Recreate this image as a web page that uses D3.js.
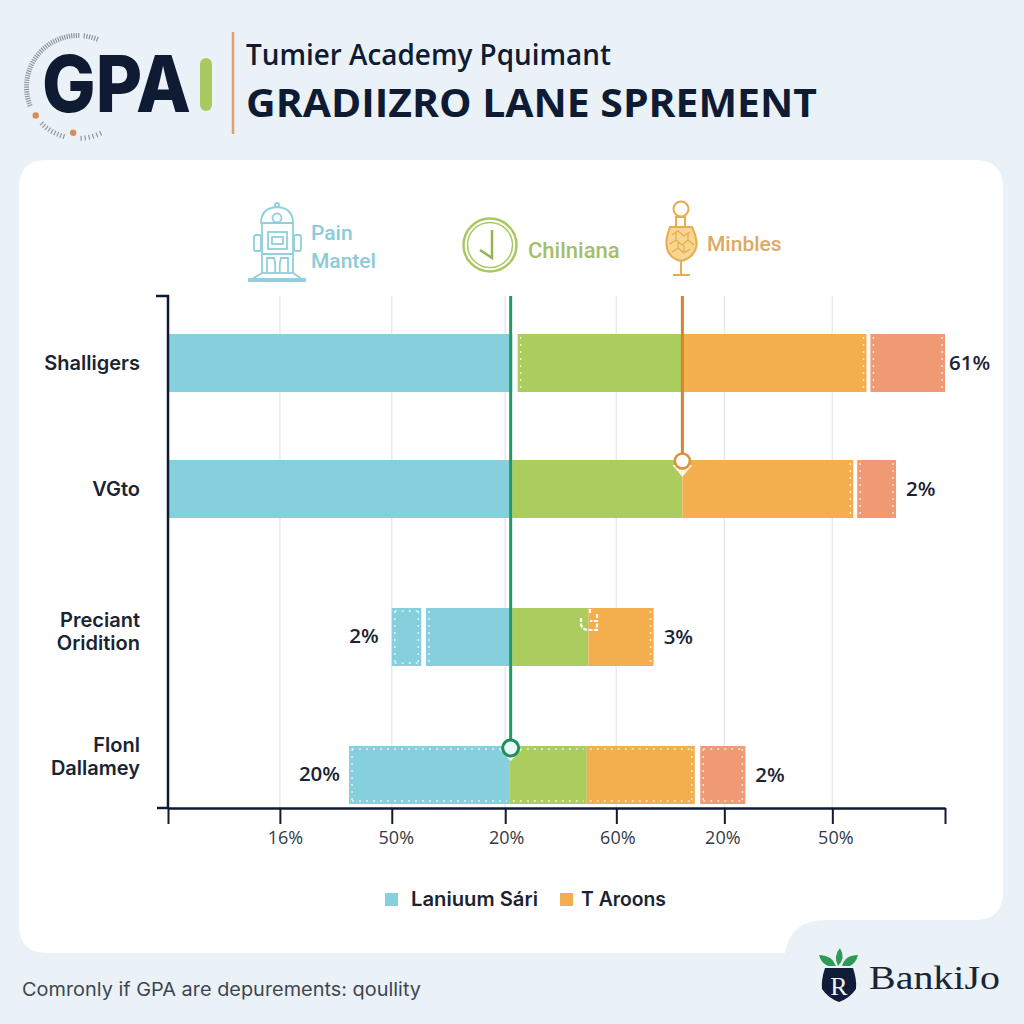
<!DOCTYPE html>
<html>
<head>
<meta charset="utf-8">
<script src="https://cdn.jsdelivr.net/npm/d3@7/dist/d3.min.js"></script>
<style>
  html, body { margin: 0; padding: 0; background: #eaf2f7; }
  svg { display: block; }
  text { font-family: "Open Sans", sans-serif; }
</style>
</head>
<body>
<div id="chart"></div>
<script>
// values, x in percent of the axis length
var categories = ["Shalligers", "VGto", "Preciant\nOridition", "Flonl\nDallamey"];
var xTickValues = [0, 14.4, 28.8, 43.4, 57.7, 71.6, 85.5, 100];
var xTickLabels = ["", "16%", "50%", "20%", "60%", "20%", "50%", ""];

// one [from, to] per category, null where the category has no such piece
var seriesLead = [null, null, [28.8, 32.6], null];
var seriesBlue = [[0, 44.3], [0, 44.3], [33.2, 44.3], [23.3, 44.0]];
var seriesGreen = [[45.0, 66.2], [44.3, 66.2], [44.3, 54.1], [44.0, 53.9]];
var seriesOrange = [[66.2, 89.9], [66.2, 88.2], [54.1, 62.5], [53.9, 67.8]];
var seriesRed = [[90.4, 100], [88.7, 93.7], null, [68.5, 74.3]];

var leftLabels = [null, null, "2%", "20%"];
var rightLabels = ["61%", "2%", "3%", "2%"];

var greenMarker = 44.1;
var orangeMarker = 66.2;

var width = 1024, height = 1024;
var navy = "#0f1b33";

var colors = { lead: "#86d0de", blue: "#86d0de", green: "#abcd5e", orange: "#f3ae4e", red: "#ef9a75" };

// which sides of each piece carry the white dotted edge, per category
var dotted = {
  lead: ["", "", "tblr", ""],
  blue: ["", "", "l", "tbl"],
  green: ["l", "", "", "tb"],
  orange: ["r", "r", "r", "tbr"],
  red: ["lr", "lr", "", "tblr"]
};

var svg = d3.select("#chart").append("svg")
  .attr("width", width)
  .attr("height", height);

svg.append("rect").attr("width", width).attr("height", height).attr("fill", "#eaf2f7");

// card with the notch for the logo in the lower right corner
svg.append("path")
  .attr("fill", "#ffffff")
  .attr("d", "M47,160 H975 Q1003,160 1003,188 V892 Q1003,920 975,920 H825 Q790,920 785,953 H47 Q19,953 19,925 V188 Q19,160 47,160 Z");

// ---- header
var ring = svg.append("g").attr("transform", "translate(78,87)");
function ringTicks(from, to, step) {
  ring.selectAll(null)
    .data(d3.range(from, to, step))
    .enter().append("line")
    .attr("y1", -54).attr("y2", -49)
    .attr("stroke", "#8d969f").attr("stroke-width", 1.2)
    .attr("transform", function (d) { return "rotate(" + d + ")"; });
}
ringTicks(-111, 2, 2.6);
ringTicks(7, 24, 3);
ringTicks(-164, -134, 3.6);
ringTicks(154, 180, 4.5);
[[-124, 51], [-174, 46]].forEach(function (d) {
  var a = d[0] * Math.PI / 180;
  ring.append("circle")
    .attr("cx", Math.sin(a) * d[1]).attr("cy", -Math.cos(a) * d[1])
    .attr("r", 3.2).attr("fill", "#e0895a");
});

svg.append("text").attr("x", 42).attr("y", 112)
  .attr("fill", navy).attr("font-size", 79).attr("font-weight", 800)
  .style("font-family", "Inter, sans-serif")
  .attr("textLength", 149).attr("lengthAdjust", "spacingAndGlyphs")
  .text("GPA");
svg.append("rect").attr("x", 200).attr("y", 58).attr("width", 12).attr("height", 53).attr("rx", 6).attr("fill", "#a9c85f");
svg.append("line").attr("x1", 233).attr("x2", 233).attr("y1", 32).attr("y2", 134)
  .attr("stroke", "#e5a06a").attr("stroke-width", 2.5);

svg.append("text").attr("x", 246).attr("y", 65)
  .attr("fill", navy).attr("font-size", 28.5).attr("font-weight", 600)
  .attr("textLength", 365).attr("lengthAdjust", "spacingAndGlyphs")
  .text("Tumier Academy Pquimant");
svg.append("text").attr("x", 246).attr("y", 117)
  .attr("fill", navy).attr("font-size", 40).attr("font-weight", 700)
  .attr("textLength", 571).attr("lengthAdjust", "spacingAndGlyphs")
  .text("GRADIIZRO LANE SPREMENT");

// ---- the three icon captions above the plot
var robot = svg.append("g").attr("fill", "none").attr("stroke", "#8fd0dc").attr("stroke-width", 1.8);
robot.append("circle").attr("cx", 277).attr("cy", 205).attr("r", 2);
robot.append("path").attr("d", "M261,223 Q261,208 277,207 Q293,208 293,223 Z");
robot.append("circle").attr("cx", 277).attr("cy", 218).attr("r", 4.5);
robot.append("rect").attr("x", 262).attr("y", 223).attr("width", 31).attr("height", 50);
robot.append("rect").attr("x", 254).attr("y", 235).attr("width", 7).attr("height", 16).attr("rx", 2);
robot.append("rect").attr("x", 294).attr("y", 235).attr("width", 7).attr("height", 16).attr("rx", 2);
robot.append("rect").attr("x", 268).attr("y", 232).attr("width", 19).attr("height", 17);
robot.append("rect").attr("x", 272).attr("y", 237).attr("width", 11).attr("height", 7);
robot.append("path").attr("d", "M262,254 H293 M267,273 V258 H274 Q276,265 275,273 M288,273 V258 H281 Q279,265 280,273");
robot.append("path").attr("d", "M262,273 L252,279 H302 L293,273 M249,279 H305 V281 H249 Z");

svg.append("text").attr("x", 311).attr("y", 240).attr("fill", "#8ccbd8")
  .attr("font-size", 21).attr("font-weight", 500).style("font-family", "Roboto, sans-serif").text("Pain");
svg.append("text").attr("x", 311).attr("y", 268).attr("fill", "#8ccbd8")
  .attr("font-size", 21).attr("font-weight", 500).style("font-family", "Roboto, sans-serif").text("Mantel");

var clock = svg.append("g").attr("fill", "none").attr("stroke", "#a9c85f");
clock.append("circle").attr("cx", 490).attr("cy", 245).attr("r", 26.5).attr("stroke-width", 2.5);
clock.append("circle").attr("cx", 490).attr("cy", 245).attr("r", 22.5).attr("stroke-width", 1.5);
clock.append("path").attr("stroke", "#93b552").attr("stroke-width", 2.5)
  .attr("d", "M492,230 V258 L480,250");
svg.append("text").attr("x", 528).attr("y", 258).attr("fill", "#a3c068")
  .attr("font-size", 22).attr("font-weight", 500).style("font-family", "Roboto, sans-serif").text("Chilniana");

var glass = svg.append("g").attr("fill", "none").attr("stroke", "#e8ab4f").attr("stroke-width", 2);
glass.append("circle").attr("cx", 681).attr("cy", 209).attr("r", 7.5);
glass.append("rect").attr("x", 676).attr("y", 217).attr("width", 9).attr("height", 10);
glass.append("path").attr("fill", "#f6d690")
  .attr("d", "M670,227 H692 Q698,240 696,248 Q693,258 681,261 Q669,258 667,248 Q665,240 670,227 Z");
glass.append("path").attr("stroke-width", 1.2)
  .attr("d", "M672,235 L678,231 L684,236 L690,232 M670,244 L676,240 L682,245 L688,240 L694,245 M672,252 L678,248 L684,253 L690,249 M676,240 V231 M688,240 V233 M678,248 V241 M684,253 V245");
glass.append("path").attr("d", "M681,261 V275 M673,275 H690");
svg.append("text").attr("x", 707).attr("y", 251).attr("fill", "#dcaa62")
  .attr("font-size", 21).attr("font-weight", 500).style("font-family", "Roboto, sans-serif").text("Minbles");

// ---- plot
var plotTop = 296, plotBottom = 808;
var barHeight = 58;
var rowCenters = [363, 489, 637, 775];
var labelCenters = [363, 489, 631, 756];
var tickLabelShift = [0, 5, 4, 1, 1, -2, 3, 0];
var rightLabelGap = [4, 10, 10, 10];
var leftLabelGap = [0, 0, 13, 9];

var x = d3.scaleLinear().domain([0, 100]).range([168, 945]);
var y = d3.scaleOrdinal().domain(categories).range(rowCenters);
var labelY = d3.scaleOrdinal().domain(categories).range(labelCenters);

svg.append("g").selectAll("line")
  .data(xTickValues.slice(1, -1))
  .enter().append("line")
  .attr("x1", function (d) { return x(d); })
  .attr("x2", function (d) { return x(d); })
  .attr("y1", plotTop).attr("y2", plotBottom)
  .attr("stroke", "#e7e9eb").attr("stroke-width", 1.5);

var seriesList = [
  { key: "lead", values: seriesLead },
  { key: "blue", values: seriesBlue },
  { key: "green", values: seriesGreen },
  { key: "orange", values: seriesOrange },
  { key: "red", values: seriesRed }
];

seriesList.forEach(function (s) {
  var pieces = s.values.map(function (v, i) {
    return v ? { category: categories[i], from: v[0], to: v[1], sides: dotted[s.key][i] } : null;
  }).filter(Boolean);

  var g = svg.append("g").selectAll("g").data(pieces).enter().append("g");

  g.append("rect")
    .attr("x", function (d) { return x(d.from); })
    .attr("width", function (d) { return x(d.to) - x(d.from); })
    .attr("y", function (d) { return y(d.category) - barHeight / 2; })
    .attr("height", barHeight)
    .attr("fill", colors[s.key]);

  // white dotted edges, drawn just inside the piece
  g.each(function (d) {
    var x0 = x(d.from) + 3, x1 = x(d.to) - 3;
    var y0 = y(d.category) - barHeight / 2 + 3, y1 = y(d.category) + barHeight / 2 - 3;
    var segs = { t: [x0, y0, x1, y0], b: [x0, y1, x1, y1], l: [x0, y0, x0, y1], r: [x1, y0, x1, y1] };
    var node = d3.select(this);
    d.sides.split("").forEach(function (side) {
      var c = segs[side];
      node.append("line")
        .attr("x1", c[0]).attr("y1", c[1]).attr("x2", c[2]).attr("y2", c[3])
        .attr("stroke", "#ffffff").attr("stroke-opacity", 0.75)
        .attr("stroke-width", 1.5).attr("stroke-dasharray", "2 5");
    });
  });
});

// small white glyph on the third row
svg.append("path").attr("fill", "none").attr("stroke", "#ffffff").attr("stroke-width", 2.2)
  .attr("stroke-dasharray", "4 1.5")
  .attr("d", "M590,609 V614 M581,618 V625 Q583,630 589,630 H597 V621 H590 M597,614 V618");

var xAxis = d3.axisBottom(x)
  .tickValues(xTickValues)
  .tickSize(16)
  .tickSizeOuter(0)
  .tickPadding(7)
  .tickFormat(function (d, i) { return xTickLabels[i]; });

var xAxisG = svg.append("g")
  .attr("transform", "translate(0," + plotBottom + ")")
  .call(xAxis);
xAxisG.select(".domain").attr("stroke", navy).attr("stroke-width", 2.5);
xAxisG.selectAll(".tick line").attr("stroke", navy).attr("stroke-width", 2);
xAxisG.selectAll(".tick text")
  .attr("fill", "#333b45").attr("font-size", 18)
  .attr("dx", function (d, i) { return tickLabelShift[i]; })
  .style("font-family", "'Open Sans', sans-serif");

svg.append("line").attr("x1", 157).attr("x2", 168).attr("y1", plotBottom).attr("y2", plotBottom)
  .attr("stroke", navy).attr("stroke-width", 2.5);
svg.append("path").attr("fill", "none").attr("stroke", navy).attr("stroke-width", 2.5)
  .attr("d", "M156,296 H168 V808");

// category labels, one tspan per line
svg.append("g").selectAll("text")
  .data(categories)
  .enter().append("text")
  .attr("text-anchor", "end")
  .attr("fill", "#1a2433")
  .attr("font-size", 20)
  .attr("font-weight", 600)
  .style("font-family", "Inter, sans-serif")
  .each(function (d) {
    var lines = d.split("\n");
    var lh = 23;
    var top = labelY(d) - (lines.length - 1) * lh / 2 + 7;
    d3.select(this).selectAll("tspan").data(lines).enter().append("tspan")
      .attr("x", 140)
      .attr("y", function (l, i) { return top + i * lh; })
      .text(function (l) { return l; });
  });

// end labels beside each bar
function barEdges(i) {
  var pieces = seriesList.map(function (s) { return s.values[i]; }).filter(Boolean);
  return [d3.min(pieces, function (p) { return p[0]; }), d3.max(pieces, function (p) { return p[1]; })];
}
function valueLabel(sel) {
  sel.attr("fill", "#1a2433").attr("font-size", 20.5).attr("font-weight", 600)
    .attr("dy", "0.35em");
}
svg.append("g").selectAll("text")
  .data(categories)
  .enter().append("text")
  .filter(function (d, i) { return leftLabels[i]; })
  .attr("text-anchor", "end")
  .attr("x", function (d) { var i = categories.indexOf(d); return x(barEdges(i)[0]) - leftLabelGap[i]; })
  .attr("y", function (d) { return y(d) - 1; })
  .call(valueLabel)
  .text(function (d) { return leftLabels[categories.indexOf(d)]; });
svg.append("g").selectAll("text")
  .data(categories)
  .enter().append("text")
  .attr("x", function (d) { var i = categories.indexOf(d); return x(barEdges(i)[1]) + rightLabelGap[i]; })
  .attr("y", function (d) { return y(d); })
  .call(valueLabel)
  .text(function (d) { return rightLabels[categories.indexOf(d)]; });

// marker lines with their round heads
svg.append("line")
  .attr("x1", x(greenMarker)).attr("x2", x(greenMarker))
  .attr("y1", plotTop).attr("y2", 748)
  .attr("stroke", "#1f9a63").attr("stroke-width", 3);
svg.append("path")
  .attr("d", "M" + (x(greenMarker) - 11) + ",750 L" + x(greenMarker) + ",761 L" + (x(greenMarker) + 11) + ",750 Z")
  .attr("fill", "#f5fbf6");
svg.append("circle").attr("cx", x(greenMarker)).attr("cy", 748).attr("r", 8)
  .attr("fill", "#e9f8f4").attr("stroke", "#1f8f5f").attr("stroke-width", 3);

svg.append("line")
  .attr("x1", x(orangeMarker)).attr("x2", x(orangeMarker))
  .attr("y1", plotTop).attr("y2", 455)
  .attr("stroke", "#d9822b").attr("stroke-width", 3);
svg.append("path")
  .attr("d", "M" + (x(orangeMarker) - 10) + ",465 L" + x(orangeMarker) + ",477 L" + (x(orangeMarker) + 10) + ",465 Z")
  .attr("fill", "#fdf3df");
svg.append("circle").attr("cx", x(orangeMarker)).attr("cy", 461).attr("r", 7.5)
  .attr("fill", "#ffffff").attr("stroke", "#e08f3a").attr("stroke-width", 2.5);

// ---- legend
var legendKeys = ["Laniuum Sári", "T Aroons"];
var legendColors = [colors.blue, colors.orange];
var legendWidths = [127, 85];
var legendBox = d3.scaleOrdinal().domain(legendKeys).range([385, 560]);
var legend = svg.append("g").selectAll("g").data(legendKeys).enter().append("g");
legend.append("rect")
  .attr("x", function (d) { return legendBox(d); })
  .attr("y", 893).attr("width", 13).attr("height", 13)
  .attr("fill", function (d, i) { return legendColors[i]; });
legend.append("text")
  .attr("x", function (d, i) { return legendBox(d) + (i === 0 ? 26 : 21); })
  .attr("y", 906)
  .attr("fill", "#1a2433").attr("font-size", 19.5).attr("font-weight", 600)
  .style("font-family", "Inter, sans-serif")
  .attr("textLength", function (d, i) { return legendWidths[i]; })
  .attr("lengthAdjust", "spacingAndGlyphs")
  .text(function (d) { return d; });

// ---- footer
svg.append("text").attr("x", 22).attr("y", 996)
  .attr("fill", "#3d4650").attr("font-size", 18.5)
  .style("font-family", "Inter, sans-serif")
  .attr("textLength", 399).attr("lengthAdjust", "spacingAndGlyphs")
  .text("Comronly if GPA are depurements: qoullity");

// bank logo
var leaf = svg.append("g").attr("fill", "#2f9a57");
leaf.append("path").attr("d", "M819,955 Q832,955 836,966 H828 Q821,963 819,955 Z");
leaf.append("path").attr("d", "M840,948 Q833,956 838,966 Q846,958 840,948 Z");
leaf.append("path").attr("d", "M858,955 Q845,955 842,966 H850 Q856,963 858,955 Z");
svg.append("path").attr("fill", "#101d38")
  .attr("d", "M825,968 H853 Q857,980 856,989 Q850,998 839,1002 Q828,998 822,989 Q821,980 825,968 Z");
svg.append("text").attr("x", 839).attr("y", 995).attr("text-anchor", "middle")
  .attr("fill", "#f3f5f7").attr("font-size", 26)
  .style("font-family", "'Liberation Serif', serif").text("R");
svg.append("text").attr("x", 869).attr("y", 989)
  .attr("fill", "#1b2436").attr("font-size", 34)
  .style("font-family", "'Liberation Serif', serif")
  .attr("textLength", 131).attr("lengthAdjust", "spacingAndGlyphs")
  .text("BankiJo");
</script>
</body>
</html>
